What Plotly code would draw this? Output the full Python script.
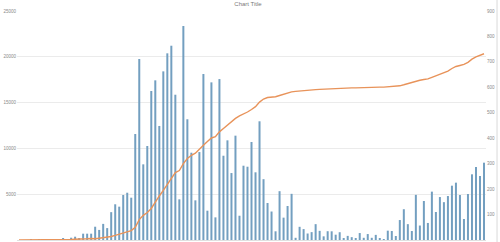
import plotly.graph_objects as go

days = list(range(1, 118))

daily = [0, 0, 0, 10, 0, 20, 0, 10, 30, 20, 40,
         140, 60, 250, 360, 220, 690, 690, 690, 1450, 1100,
         1760, 1300, 3040, 3900, 3640, 4910, 5160, 4620, 11570, 19760,
         8260, 10260, 16270, 17430, 12450, 18410, 20380, 21210, 15860, 4440,
         23360, 13180, 9530, 4330, 9600, 18120, 3200, 17210, 2470, 17570,
         9200, 10880, 7310, 11390, 2650, 8110, 8000, 10700, 7390, 12960,
         6640, 4040, 3110, 950, 5330, 2440, 3710, 5040, 240, 1440,
         1190, 710, 860, 1730, 1000, 400, 960, 950, 580, 850,
         220, 450, 310, 130, 760, 240, 650, 240, 560, 130,
         80, 1020, 980, 440, 2180, 3360, 1730, 980, 4930, 1580,
         4260, 1860, 5280, 3060, 4690, 4130, 4800, 5930, 6260, 4910,
         2290, 5020, 7170, 7970, 6990, 8440]

running = [0, 0, 0, 1, 1, 1, 1, 1, 1, 2, 2,
           2, 2, 2, 3, 3, 4, 5, 6, 5, 7,
           9, 11, 14, 18, 22, 27, 31, 37, 50, 80,
           97, 108, 124, 150, 173, 195, 220, 245, 265, 273,
           300, 320, 333, 341, 358, 372, 387, 401, 406, 425,
           438, 452, 467, 478, 488, 495, 503, 513, 524, 542,
           554, 560, 562, 563, 568, 573, 578, 582, 584, 586,
           588, 589, 590, 591, 592, 593, 594, 594, 595, 596,
           597, 597, 598, 598, 599, 599, 599, 600, 600, 601,
           601, 602, 603, 604, 606, 610, 615, 618, 622, 628,
           631, 633, 639, 645, 651, 657, 664, 674, 682, 686,
           690, 698, 711, 720, 726, 732]

left_ticks = [0, 5000, 10000, 15000, 20000, 25000]
right_ticks = [0, 100, 200, 300, 400, 500, 600, 700, 800, 900]

fig = go.Figure()
fig.add_trace(go.Bar(x=days, y=daily, marker=dict(color="#739fc0", line=dict(width=0)),
                     yaxis="y", showlegend=False))
fig.add_trace(go.Scatter(x=days, y=running, mode="lines",
                         line=dict(color="#e8935a", width=1.4),
                         yaxis="y2", showlegend=False))

fig.update_layout(
    width=500, height=242,
    margin=dict(l=17, r=14, t=11, b=2),
    paper_bgcolor="white", plot_bgcolor="white",
    bargap=0.5,
    title=dict(text="Chart Title", x=0.496, xanchor="center", y=0.9855, yanchor="middle",
               font=dict(family="Liberation Sans", size=6, color="#7a7a7a")),
    xaxis=dict(range=[0.5, 117.5], showticklabels=False, showgrid=False,
               zeroline=False, showline=True, linecolor="#e0e0e0", linewidth=1, ticks=""),
    yaxis=dict(range=[0, 25000], tickvals=left_ticks, ticktext=[str(v) for v in left_ticks],
               showgrid=True, gridcolor="#ebebeb", gridwidth=1, zeroline=False,
               tickfont=dict(family="Liberation Sans", size=4.5, color="#8a8a8a"), ticks=""),
    yaxis2=dict(range=[0, 900], tickvals=right_ticks, ticktext=[str(v) for v in right_ticks],
                overlaying="y", side="right", showgrid=False, zeroline=False,
                tickfont=dict(family="Liberation Sans", size=4.5, color="#8a8a8a"), ticks=""),
    shapes=[dict(type="line", xref="paper", yref="paper", x0=1.0235, x1=1.0235, y0=-0.02, y1=1.06,
                 line=dict(color="#d9d9d9", width=1))],
)

fig.write_html("out.html")
